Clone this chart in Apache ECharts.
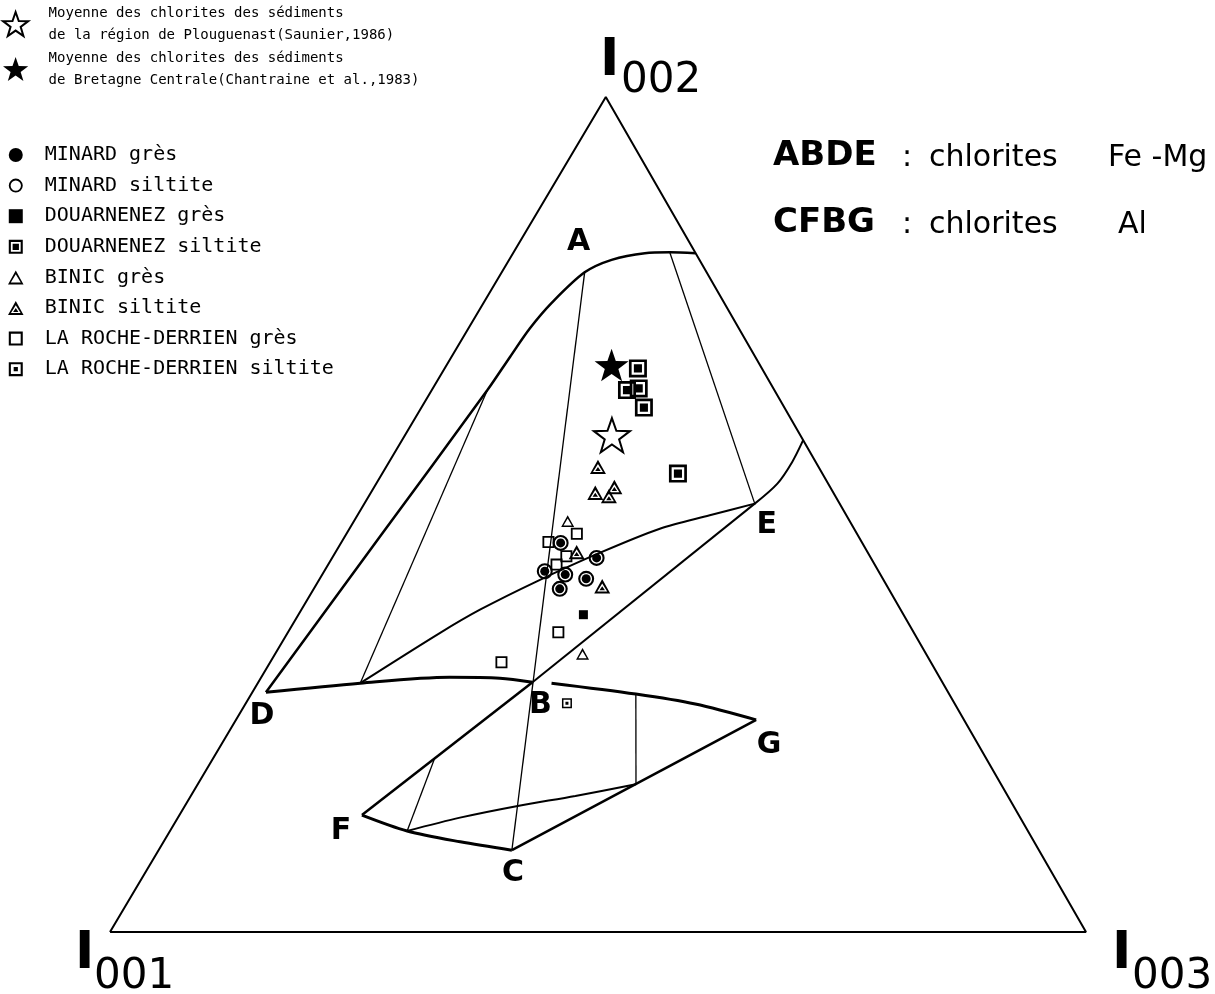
<!DOCTYPE html>
<html>
<head>
<meta charset="utf-8">
<style>html,body{margin:0;padding:0;background:#fff}#main{width:1215px;height:994px}</style>
<script src="https://cdn.jsdelivr.net/npm/echarts@6/dist/echarts.min.js"></script>
</head>
<body>
<div id="main"></div>
<script>
// compositions, in % : [I001, I002, I003]
var minardGres = [[30.9,46.6,22.5],[28.2,44.8,27.1],[34.2,43.2,22.6],[32.4,42.8,24.9],[30.4,42.3,27.3],[33.7,41.1,25.2]];
var minardSiltite = [[30.9,46.6,22.5],[28.2,44.8,27.1],[34.2,43.2,22.6],[32.4,42.8,24.9],[30.4,42.3,27.3],[33.7,41.1,25.2]];
var douarnenezGres = [[32.9,38.0,29.2]];
var douarnenezSiltite = [[12.7,67.5,19.8],[15.1,64.9,20.0],[13.8,65.1,21.1],[14.4,62.8,22.8],[14.8,54.9,30.3]];
var binicGres = [[28.9,49.2,21.9],[35.2,33.3,31.5]];
var binicSiltite = [[22.6,55.7,21.7],[24.5,52.6,23.0],[23.2,52.2,24.6],[22.1,53.3,24.6],[29.8,45.5,24.7],[29.2,41.4,29.4]];
var rocheGres = [[32.1,46.7,21.2],[28.7,47.7,23.6],[31.0,45.0,23.9],[32.7,44.0,23.4],[36.4,35.9,27.7],[43.9,32.3,23.7]];
var rocheSiltite = [[39.7,27.4,32.9]];
var plouguenast = [[19.3,59.5,21.2]];
var bretagne = [[15.2,67.9,16.9]];

// field boundaries
var triangle = [[100,0,0],[0,100,0],[0,0,100],[100,0,0]];
var curveDA = [[69.9,28.7,1.4],[49.1,47.3,3.6],[29.4,64.9,5.7],[25.1,68.9,6.0],[21.4,72.3,6.3],[17.6,75.4,7.0],[12.4,79.0,8.5],[9.0,80.5,10.5],[5.2,81.3,13.5],[2.6,81.4,16.0],[0,81.3,18.7]];
var curveDB = [[69.9,28.7,1.4],[59.7,29.8,10.5],[50.1,30.5,19.3],[45.1,30.4,24.5],[41.9,29.9,28.1]];
var tieLeft = [[59.7,29.8,10.5],[29.4,64.9,5.7]];
var curveMidE = [[59.7,29.8,10.5],[48.6,35.8,15.6],[43.1,38.6,18.3],[35.6,42.0,22.4],[27.5,45.4,27.1],[19.9,48.3,31.8],[14.0,49.9,36.1],[8.7,51.3,40.0]];
var curveESide = [[8.7,51.3,40.0],[5.3,53.7,41.1],[2.4,56.3,41.3],[0,58.9,41.1]];
var lineBE = [[41.9,29.9,28.1],[8.7,51.3,40.0]];
var tieRight = [[2.6,81.4,16.0],[8.7,51.3,40.0]];
var lineAC = [[12.4,79.0,8.5],[54.0,9.8,36.2]];
var curveBG = [[40.0,29.8,30.1],[32.1,28.5,39.4],[26.6,27.3,46.1],[21.3,25.4,53.3]];
var lineGC = [[21.3,25.4,53.3],[54.0,9.8,36.2]];
var curveCF = [[54.0,9.8,36.2],[58.8,10.8,30.4],[63.6,12.1,24.3],[67.3,14.0,18.7]];
var lineFB = [[67.3,14.0,18.7],[41.9,29.9,28.1]];
var tieF = [[63.6,12.1,24.3],[56.5,20.8,22.7]];
var curveInner = [[63.6,12.1,24.3],[57.4,13.7,28.9],[50.8,15.1,34.1],[44.3,16.3,39.4],[37.4,17.7,44.9]];
var tieG = [[32.1,28.5,39.4],[37.4,17.7,44.9]];

var vertexNames = ['A','B','C','D','E','F','G'];
var vertexPts = [[12.4,79.0,8.5],[41.9,29.9,28.1],[54.0,9.8,36.2],[69.9,28.7,1.4],[8.7,51.3,40.0],[67.3,14.0,18.7],[21.3,25.4,53.3]];

// apex of the scanned triangle sits a bit right of centre
var SKEW = 0.508;
function P(c) {
    var a2 = c[1] / 100, a3 = c[2] / 100;
    return [a3 + SKEW * a2, a2];
}

var STAR = 'path://M10,0.5L12.35,7.26L19.51,7.41L13.8,11.74L15.88,18.59L10,14.5L4.12,18.59L6.2,11.74L0.49,7.41L7.65,7.26Z';
var RING = 'path://M10,0A10,10 0 1,1 10,20A10,10 0 1,1 10,0Z M10,2.6A7.4,7.4 0 1,0 10,17.4A7.4,7.4 0 1,0 10,2.6Z';
var SQ = 'path://M0,0H20V20H0Z';
var SQ_OPEN = 'path://M0,0H20V20H0Z M3,3V17H17V3Z';
var SQ_DOT = 'path://M0,0H20V20H0Z M3,3V17H17V3Z M7,7H13V13H7Z';
var SQ_BOX = 'path://M0,0H20V20H0Z M3,3V17H17V3Z M5.5,5.5H14.5V14.5H5.5Z';
var TRI_OPEN = 'path://M10,0L20,18H0Z M10,5L3.6,15.6H16.4Z';
var TRI_FILL = 'path://M10,0L20,18H0Z M10,5.5L3.8,15.5H16.2Z M10,9L13.4,14H6.6Z';

var nameWhite = 'Moyenne des chlorites des sédiments\nde la région de Plouguenast(Saunier,1986)';
var nameBlack = 'Moyenne des chlorites des sédiments\nde Bretagne Centrale(Chantraine et al.,1983)';

var labelOffset = {A:[-6,-30], B:[8,23], C:[1,23], D:[-4,24], E:[12,22], F:[-21,16], G:[13,25]};

function lineSeries(pts, w, smooth) {
    return {type: 'line', data: pts.map(P), symbol: 'none', smooth: smooth ? 0.3 : false,
        lineStyle: {color: '#000', width: w}, silent: true, z: 2};
}
function dots(name, pts, symbol, size, style, z) {
    style.opacity = 1;
    return {name: name, type: 'scatter', data: pts.map(P), symbol: symbol, symbolSize: size,
        symbolKeepAspect: true, itemStyle: style, z: z || 5};
}

var series = [
    lineSeries(triangle, 2, false),
    lineSeries(curveDA, 2.5, true),
    lineSeries(curveDB, 3, true),
    lineSeries(tieLeft, 1.3, false),
    lineSeries(curveMidE, 2, true),
    lineSeries(curveESide, 2, true),
    lineSeries(lineBE, 2, false),
    lineSeries(tieRight, 1.3, false),
    lineSeries(lineAC, 1.3, false),
    lineSeries(curveBG, 3, true),
    lineSeries(lineGC, 2.5, false),
    lineSeries(curveCF, 3, true),
    lineSeries(lineFB, 2.5, false),
    lineSeries(tieF, 1.3, false),
    lineSeries(curveInner, 2, true),
    lineSeries(tieG, 1.3, false),
    {
        type: 'scatter', symbolSize: 0, silent: true, itemStyle: {opacity: 1},
        data: vertexNames.map(function (n, i) {
            return {name: n, value: P(vertexPts[i]), label: {offset: labelOffset[n]}};
        }),
        label: {show: true, position: 'inside', formatter: '{b}', color: '#000',
            fontFamily: 'DejaVu Sans', fontWeight: 'bold', fontSize: 30}
    },
    dots(nameWhite, plouguenast, STAR, 36, {color: '#fff', borderColor: '#000', borderWidth: 2}, 6),
    dots(nameBlack, bretagne, STAR, 34, {color: '#000'}, 7),
    dots('MINARD siltite', minardSiltite, RING, 16, {color: '#000'}),
    dots('MINARD grès', minardGres, 'circle', 9, {color: '#000'}, 6),
    dots('DOUARNENEZ grès', douarnenezGres, SQ, 9, {color: '#000'}),
    dots('DOUARNENEZ siltite', douarnenezSiltite, SQ_BOX, 18, {color: '#000'}),
    dots('BINIC grès', binicGres, TRI_OPEN, 13, {color: '#000'}),
    dots('BINIC siltite', binicSiltite, TRI_FILL, 16, {color: '#000'}),
    dots('LA ROCHE-DERRIEN grès', rocheGres, SQ_OPEN, 12, {color: '#000'}),
    dots('LA ROCHE-DERRIEN siltite', rocheSiltite, SQ_DOT, 10, {color: '#000'})
];

function txt(x, y, s, font) {
    return {type: 'text', x: x, y: y, style: {text: s, font: font, fill: '#000', align: 'left', verticalAlign: 'middle'}};
}
var BIG_I = 'bold 52px "DejaVu Sans"';
var SUB = '42px "DejaVu Sans"';
var CAP = 'bold 34px "DejaVu Sans"';
var LAB = '30px "DejaVu Sans"';

var chart = echarts.init(document.getElementById('main'));
chart.setOption({
    animation: false,
    backgroundColor: '#fff',
    grid: {left: 110, right: 129, top: 97, bottom: 62},
    xAxis: {type: 'value', min: 0, max: 1, show: false},
    yAxis: {type: 'value', min: 0, max: 1, show: false},
    legend: [{
        data: [nameWhite, nameBlack], orient: 'vertical', left: 2, top: 2, padding: 0, itemGap: 1,
        itemWidth: 28, itemHeight: 24, selectedMode: false,
        textStyle: {fontFamily: 'DejaVu Sans Mono', fontSize: 14, lineHeight: 22, color: '#000', padding: [0, 0, 0, 14]}
    }, {
        data: ['MINARD grès', 'MINARD siltite', 'DOUARNENEZ grès', 'DOUARNENEZ siltite', 'BINIC grès',
            'BINIC siltite', 'LA ROCHE-DERRIEN grès', 'LA ROCHE-DERRIEN siltite'],
        orient: 'vertical', left: 3, top: 140, itemGap: 10.6, itemWidth: 30, itemHeight: 14, selectedMode: false,
        textStyle: {fontFamily: 'DejaVu Sans Mono', fontSize: 20, lineHeight: 20, color: '#000', padding: [0, 0, 0, 9]}
    }],
    graphic: [
        txt(600, 61, 'I', BIG_I),
        txt(621, 81, '002', SUB),
        txt(75, 954, 'I', BIG_I),
        txt(94, 977, '001', SUB),
        txt(1112, 954, 'I', BIG_I),
        txt(1132, 977, '003', SUB),
        txt(773, 156, 'ABDE', CAP),
        txt(902, 158, ':', LAB),
        txt(929, 158, 'chlorites', LAB),
        txt(1108, 158, 'Fe -Mg', LAB),
        txt(773, 223, 'CFBG', CAP),
        txt(902, 225, ':', LAB),
        txt(929, 225, 'chlorites', LAB),
        txt(1118, 225, 'Al', LAB)
    ],
    series: series
});
</script>
</body>
</html>
